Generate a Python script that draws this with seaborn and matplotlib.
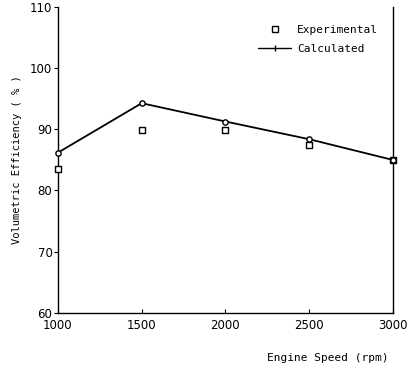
import matplotlib
matplotlib.use("Agg")
import matplotlib.pyplot as plt
import seaborn as sns
import pandas as pd
from matplotlib.lines import Line2D

# Engine speed sweep and volumetric efficiency results
speed_rpm = [1000, 1500, 2000, 2500, 3000]
calculated = [86.2, 94.3, 91.3, 88.4, 85.0]
experimental = [83.6, 89.9, 89.9, 87.5, 85.0]

x_ticks = [1000, 1500, 2000, 2500, 3000]
y_ticks = [60, 70, 80, 90, 100, 110]

sns.set_style("ticks", {"text.color": "black", "xtick.color": "black",
                        "ytick.color": "black", "axes.labelcolor": "black"})
plt.rcParams["font.family"] = ["DejaVu Sans"]

df = pd.DataFrame({"speed": speed_rpm, "calc": calculated, "exp": experimental})

fig = plt.figure(figsize=(4.11, 3.69), dpi=100)
ax = fig.add_axes([0.141, 0.153, 0.815, 0.827])

sns.scatterplot(data=df, x="speed", y="exp", ax=ax, marker="s", s=14,
                facecolor="white", edgecolor="black", linewidth=1.0,
                zorder=3, clip_on=False)
sns.lineplot(data=df, x="speed", y="calc", ax=ax, color="black", linewidth=1.3,
             marker="o", markersize=3.8, markerfacecolor="white",
             markeredgecolor="black", markeredgewidth=1.0, clip_on=False,
             zorder=4)

ax.set_xlim(1000, 3000)
ax.set_ylim(60, 110)
ax.set_xticks(x_ticks)
ax.set_yticks(y_ticks)
ax.set_xticklabels([str(v) for v in x_ticks], fontsize=8.5)
ax.set_yticklabels([str(v) for v in y_ticks], fontsize=8.5)
ax.tick_params(axis="y", direction="out", length=3, width=0.8, pad=1,
               colors="black")
ax.tick_params(axis="x", direction="in", length=3, width=0.8, pad=5,
               colors="black")

for side in ["left", "bottom", "right"]:
    ax.spines[side].set_linewidth(1.0)
    ax.spines[side].set_color("black")
ax.spines["top"].set_visible(False)

ax.set_xlabel("")
ax.set_ylabel("Volumetric Efficiency ( % )", family="DejaVu Sans Mono",
              fontsize=7.5, labelpad=6, color="black")
fig.text(0.945, 0.015, "Engine Speed (rpm)", family="DejaVu Sans Mono",
         fontsize=8, ha="right", va="bottom", color="black")

handles = [
    Line2D([], [], linestyle="none", marker="s", markersize=4,
           markerfacecolor="white", markeredgecolor="black", markeredgewidth=1.0),
    Line2D([], [], color="black", linewidth=1.0, marker="|", markersize=4),
]
leg = ax.legend(handles, ["Experimental", "Calculated"], loc="upper right",
                bbox_to_anchor=(0.985, 0.975), frameon=False,
                prop={"family": "DejaVu Sans Mono", "size": 8},
                handlelength=3.0, handletextpad=0.5, labelspacing=0.8,
                labelcolor="black")

fig.savefig("out.png", dpi=100)
